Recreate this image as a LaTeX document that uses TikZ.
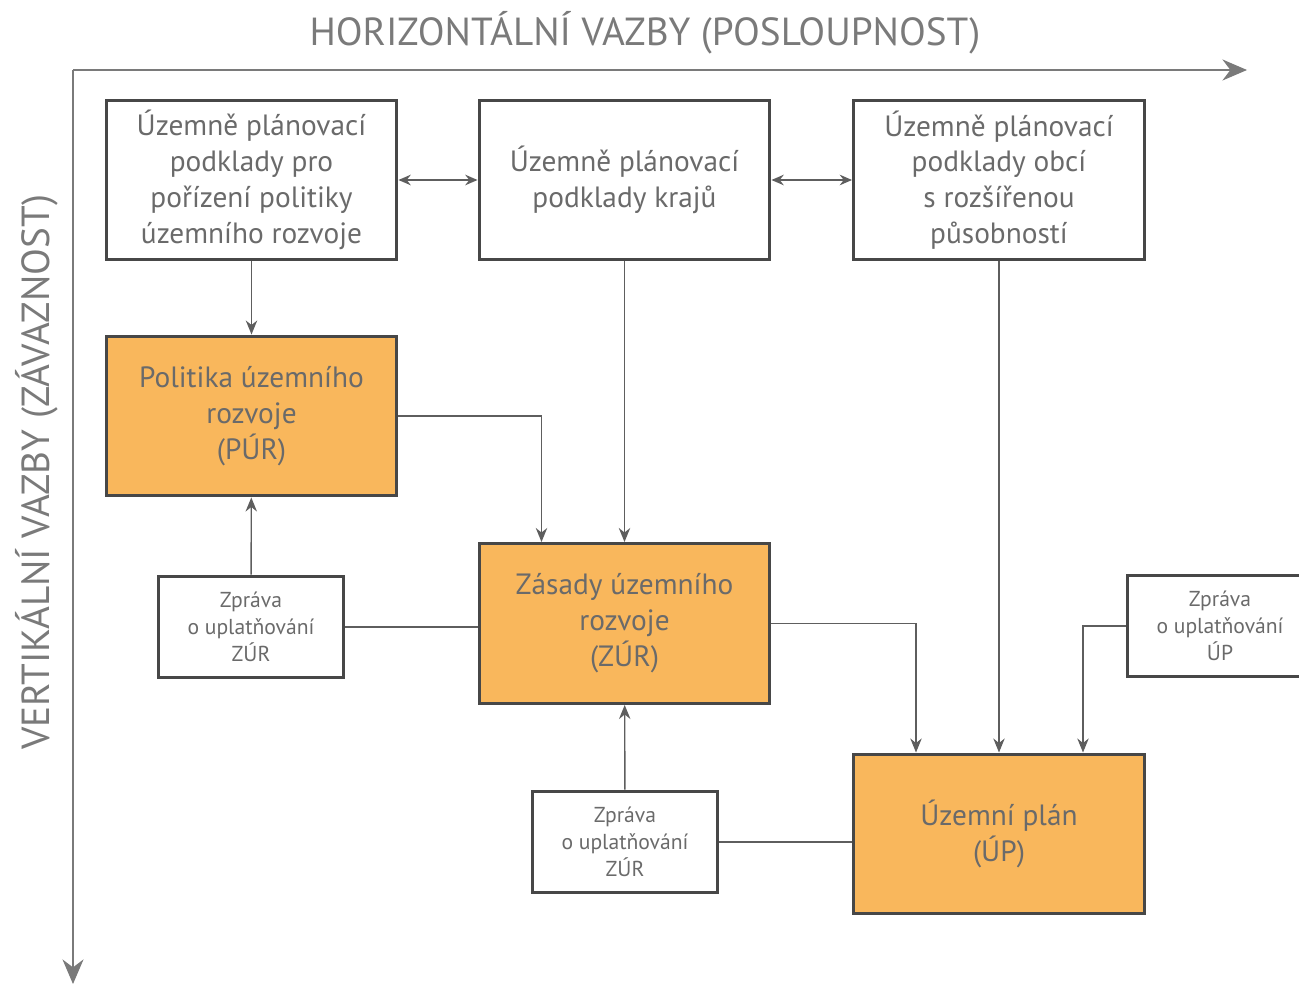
\documentclass[tikz,border=0pt]{standalone}
\usepackage{fontspec}
\setmainfont{PT Sans}
\usetikzlibrary{arrows.meta,calc}
\definecolor{boxorange}{HTML}{F9B75C}
\definecolor{txt}{HTML}{6A6A6A}
\definecolor{frame}{HTML}{474747}
\definecolor{conn}{HTML}{5E5E5E}
\definecolor{axis}{HTML}{7A7A7A}
\begin{document}
\begin{tikzpicture}[x=0.02cm,y=-0.02cm,
  bigbox/.style={draw=frame,line width=1.7pt,minimum width=5.82cm,minimum height=3.2cm,inner sep=0pt,align=center,text=txt,font=\fontsize{16.7}{20.4}\selectfont},
  orangebox/.style={bigbox,fill=boxorange},
  smallbox/.style={draw=frame,line width=1.7pt,minimum width=3.72cm,minimum height=2.04cm,inner sep=0pt,align=center,text=txt,font=\fontsize{12.3}{15.3}\selectfont},
  conn/.style={draw=conn,line width=0.8pt},
  arr/.style={conn,-{Stealth[length=8pt,width=6.5pt]}},
  darr/.style={conn,{Stealth[length=7pt,width=6pt]}-{Stealth[length=7pt,width=6pt]}},
  axislbl/.style={text=axis,font=\fontsize{22.3}{26}\selectfont}]
\useasboundingbox (0,0) rectangle (1299,986);
\clip (0,0) rectangle (1299,986);
% axes
\coordinate (O) at (73,70);
\coordinate (Hend) at (1247,70);
\coordinate (Vend) at (73,984);
\draw[draw=axis,line width=0.9pt,-{Stealth[length=14pt,width=12pt]}] (O) -- (Hend);
\draw[draw=axis,line width=0.9pt,-{Stealth[length=14pt,width=12pt]}] (O) -- (Vend);
\node[axislbl] (hl) at (645,33) {HORIZONTÁLNÍ VAZBY (POSLOUPNOST)};
\node[axislbl,rotate=90] (vl) at (37,472) {VERTIKÁLNÍ VAZBY (ZÁVAZNOST)};
% boxes
\node[bigbox] (A) at (251.5,180) {Územně plánovací\\podklady pro\\pořízení politiky\\územního rozvoje};
\node[bigbox] (B) at (624.5,180) {Územně plánovací\\podklady krajů};
\node[bigbox] (C) at (999,180) {Územně plánovací\\podklady obcí\\s rozšířenou\\působností};
\node[orangebox] (D) at (251.5,416) {Politika územního\\rozvoje\\(PÚR)};
\node[orangebox] (E) at (624.5,623.5) {Zásady územního\\rozvoje\\(ZÚR)};
\node[orangebox] (F) at (999,834) {Územní plán\\(ÚP)};
\node[smallbox] (Z1) at (251,627) {Zpráva\\o uplatňování\\ZÚR};
\node[smallbox] (Z2) at (625,842) {Zpráva\\o uplatňování\\ZÚR};
\node[smallbox] (Z3) at (1220,626) {Zpráva\\o uplatňování\\ÚP};
% connectors
\draw[darr] (A.east) -- (B.west);
\draw[darr] (B.east) -- (C.west);
\draw[arr] (A) -- (D);
\draw[arr] (B) -- (E);
\draw[arr] (D.east) -| ($(E.north)+(-83,0)$);
\draw[arr] (Z1) -- (D);
\draw[conn] (Z1.east) -- (Z1.east -| E.west);
\draw[arr] (E.east) -| ($(F.north)+(-83,0)$);
\draw[arr] (C) -- (F);
\draw[arr] (Z3.west) -| ($(F.north)+(84,0)$);
\draw[arr] (Z2) -- (E);
\draw[conn] (Z2.east) -- (Z2.east -| F.west);
\end{tikzpicture}
\end{document}
